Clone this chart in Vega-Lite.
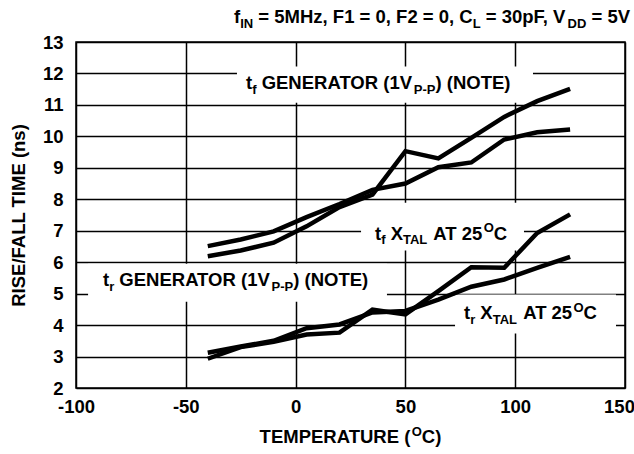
{
  "$schema": "https://vega.github.io/schema/vega-lite/v6.json",
  "width": 549,
  "height": 346,
  "autosize": {"type": "none"},
  "padding": {"left": 76, "top": 42, "right": 9, "bottom": 66},
  "background": "white",
  "config": {
    "view": {"stroke": "black", "strokeWidth": 1.5},
    "axis": {
      "labelFont": "Liberation Sans", "labelFontWeight": "bold", "labelFontSize": 18.5, "labelColor": "black",
      "titleFont": "Liberation Sans", "titleFontWeight": "bold", "titleFontSize": 18.5, "titleColor": "black",
      "gridColor": "black", "gridWidth": 1.5, "gridOpacity": 1, "domain": false, "ticks": false
    }
  },
  "datasets": {
    "curves": [
      {"series": "tf generator", "temp": -40, "time": 6.19}, {"series": "tf generator", "temp": -25, "time": 6.37},
      {"series": "tf generator", "temp": -10, "time": 6.62}, {"series": "tf generator", "temp": 5, "time": 7.14},
      {"series": "tf generator", "temp": 20, "time": 7.75}, {"series": "tf generator", "temp": 35, "time": 8.15},
      {"series": "tf generator", "temp": 50, "time": 9.53}, {"series": "tf generator", "temp": 65, "time": 9.3},
      {"series": "tf generator", "temp": 80, "time": 9.95}, {"series": "tf generator", "temp": 95, "time": 10.62},
      {"series": "tf generator", "temp": 110, "time": 11.12}, {"series": "tf generator", "temp": 125, "time": 11.51},
      {"series": "tf xtal", "temp": -40, "time": 6.51}, {"series": "tf xtal", "temp": -25, "time": 6.72},
      {"series": "tf xtal", "temp": -10, "time": 6.98}, {"series": "tf xtal", "temp": 5, "time": 7.43},
      {"series": "tf xtal", "temp": 20, "time": 7.85}, {"series": "tf xtal", "temp": 35, "time": 8.3},
      {"series": "tf xtal", "temp": 50, "time": 8.5}, {"series": "tf xtal", "temp": 65, "time": 9.02},
      {"series": "tf xtal", "temp": 80, "time": 9.17}, {"series": "tf xtal", "temp": 95, "time": 9.9},
      {"series": "tf xtal", "temp": 110, "time": 10.13}, {"series": "tf xtal", "temp": 125, "time": 10.22},
      {"series": "tr generator", "temp": -40, "time": 2.93}, {"series": "tr generator", "temp": -25, "time": 3.3},
      {"series": "tr generator", "temp": -10, "time": 3.47}, {"series": "tr generator", "temp": 5, "time": 3.7},
      {"series": "tr generator", "temp": 20, "time": 3.76}, {"series": "tr generator", "temp": 35, "time": 4.49},
      {"series": "tr generator", "temp": 50, "time": 4.34}, {"series": "tr generator", "temp": 65, "time": 5.08},
      {"series": "tr generator", "temp": 80, "time": 5.84}, {"series": "tr generator", "temp": 95, "time": 5.82},
      {"series": "tr generator", "temp": 110, "time": 6.93}, {"series": "tr generator", "temp": 125, "time": 7.52},
      {"series": "tr xtal", "temp": -40, "time": 3.12}, {"series": "tr xtal", "temp": -25, "time": 3.32},
      {"series": "tr xtal", "temp": -10, "time": 3.5}, {"series": "tr xtal", "temp": 5, "time": 3.9},
      {"series": "tr xtal", "temp": 20, "time": 4.02}, {"series": "tr xtal", "temp": 35, "time": 4.4},
      {"series": "tr xtal", "temp": 50, "time": 4.45}, {"series": "tr xtal", "temp": 65, "time": 4.81},
      {"series": "tr xtal", "temp": 80, "time": 5.22}, {"series": "tr xtal", "temp": 95, "time": 5.45},
      {"series": "tr xtal", "temp": 110, "time": 5.82}, {"series": "tr xtal", "temp": 125, "time": 6.17}
    ],
    "boxes": [
      {"label": "tf generator", "temp": -26.7, "temp2": 108.1, "time": 11.07, "time2": 12.22},
      {"label": "tf xtal", "temp": 29.8, "temp2": 104.0, "time": 6.37, "time2": 7.89},
      {"label": "tr generator", "temp": -94.5, "temp2": 41.6, "time": 4.74, "time2": 5.95},
      {"label": "tr xtal", "temp": 72.6, "temp2": 145.9, "time": 3.73, "time2": 4.97}
    ],
    "texts": [
      {"kind": "main", "text": "f", "temp": -28.05, "time": 13.6},
      {"kind": "sub", "text": "IN", "temp": -25.23, "time": 13.6},
      {"kind": "main", "text": "= 5MHz, F1 = 0, F2 = 0, C", "temp": -16.97, "time": 13.6},
      {"kind": "sub", "text": "L", "temp": 80.65, "time": 13.6},
      {"kind": "main", "text": "= 30pF, V", "temp": 86.58, "time": 13.6},
      {"kind": "sub", "text": "DD", "temp": 123.82, "time": 13.6},
      {"kind": "main", "text": "= 5V", "temp": 134.72, "time": 13.6},

      {"kind": "main", "text": "t", "temp": -22.59, "time": 11.49},
      {"kind": "sub", "text": "f", "temp": -19.76, "time": 11.49},
      {"kind": "main", "text": "GENERATOR (1V", "temp": -15.47, "time": 11.49},
      {"kind": "sub", "text": "P-P", "temp": 53.83, "time": 11.49},
      {"kind": "main", "text": ") (NOTE)", "temp": 63.71, "time": 11.49},

      {"kind": "main", "text": "t", "temp": 36.16, "time": 6.72},
      {"kind": "sub", "text": "f", "temp": 38.98, "time": 6.72},
      {"kind": "main", "text": "X", "temp": 43.28, "time": 6.72},
      {"kind": "sub", "text": "TAL", "temp": 48.91, "time": 6.72},
      {"kind": "main", "text": "AT 25", "temp": 62.72, "time": 6.72},
      {"kind": "sup", "text": "O", "temp": 85.66, "time": 6.72},
      {"kind": "main", "text": "C", "temp": 90.26, "time": 6.72},

      {"kind": "main", "text": "t", "temp": -87.7, "time": 5.24},
      {"kind": "sub", "text": "r", "temp": -84.88, "time": 5.24},
      {"kind": "main", "text": "GENERATOR (1V", "temp": -80.26, "time": 5.24},
      {"kind": "sub", "text": "P-P", "temp": -10.97, "time": 5.24},
      {"kind": "main", "text": ") (NOTE)", "temp": -1.09, "time": 5.24},

      {"kind": "main", "text": "t", "temp": 76.68, "time": 4.18},
      {"kind": "sub", "text": "r", "temp": 79.51, "time": 4.18},
      {"kind": "main", "text": "X", "temp": 84.13, "time": 4.18},
      {"kind": "sub", "text": "TAL", "temp": 89.75, "time": 4.18},
      {"kind": "main", "text": "AT 25", "temp": 103.62, "time": 4.18},
      {"kind": "sup", "text": "O", "temp": 126.55, "time": 4.18},
      {"kind": "main", "text": "C", "temp": 131.15, "time": 4.18},

      {"kind": "main", "text": "TEMPERATURE (", "temp": -16.39, "time": 0.25},
      {"kind": "sup", "text": "O", "temp": 52.87, "time": 0.25},
      {"kind": "main", "text": "C)", "temp": 57.47, "time": 0.25}
    ]
  },
  "encoding": {
    "x": {"field": "temp", "type": "quantitative",
          "scale": {"domain": [-100, 150], "nice": false, "zero": false},
          "axis": {"values": [-100, -50, 0, 50, 100, 150], "title": null, "labelPadding": 9, "labelFlush": false, "labelOverlap": false,
                   "labelExpr": "datum.value < 0 ? '-' + abs(datum.value) : '' + datum.value",
                   "labelOffset": {"condition": {"test": "datum.value == 150", "value": -6}, "value": 0}}},
    "y": {"field": "time", "type": "quantitative",
          "scale": {"domain": [2, 13], "nice": false, "zero": false},
          "axis": {"values": [2, 3, 4, 5, 6, 7, 8, 9, 10, 11, 12, 13], "title": "RISE/FALL TIME (ns)", "labelPadding": 13, "titlePadding": 14, "labelFlush": false, "labelOverlap": false}}
  },
  "layer": [
    {
      "data": {"name": "boxes"},
      "mark": {"type": "rect", "fill": "white", "stroke": null},
      "encoding": {
        "x2": {"field": "temp2"},
        "y2": {"field": "time2"}
      }
    },
    {
      "data": {"name": "curves"},
      "mark": {"type": "line", "color": "black", "strokeWidth": 4.5, "strokeJoin": "miter", "strokeCap": "butt"},
      "encoding": {
        "detail": {"field": "series"}
      }
    },
    {
      "data": {"name": "texts"},
      "transform": [{"filter": "datum.kind === 'main'"}],
      "mark": {"type": "text", "align": "left", "baseline": "alphabetic", "font": "Liberation Sans", "fontWeight": "bold", "fontSize": 18.5, "color": "black"},
      "encoding": {
        "text": {"field": "text"}
      }
    },
    {
      "data": {"name": "texts"},
      "transform": [{"filter": "datum.kind === 'sub'"}],
      "mark": {"type": "text", "align": "left", "baseline": "alphabetic", "font": "Liberation Sans", "fontWeight": "bold", "fontSize": 13, "dy": 4.5, "color": "black"},
      "encoding": {
        "text": {"field": "text"}
      }
    },
    {
      "data": {"name": "texts"},
      "transform": [{"filter": "datum.kind === 'sup'"}],
      "mark": {"type": "text", "align": "left", "baseline": "alphabetic", "font": "Liberation Sans", "fontWeight": "bold", "fontSize": 13, "dy": -7.5, "color": "black"},
      "encoding": {
        "text": {"field": "text"}
      }
    }
  ]
}
